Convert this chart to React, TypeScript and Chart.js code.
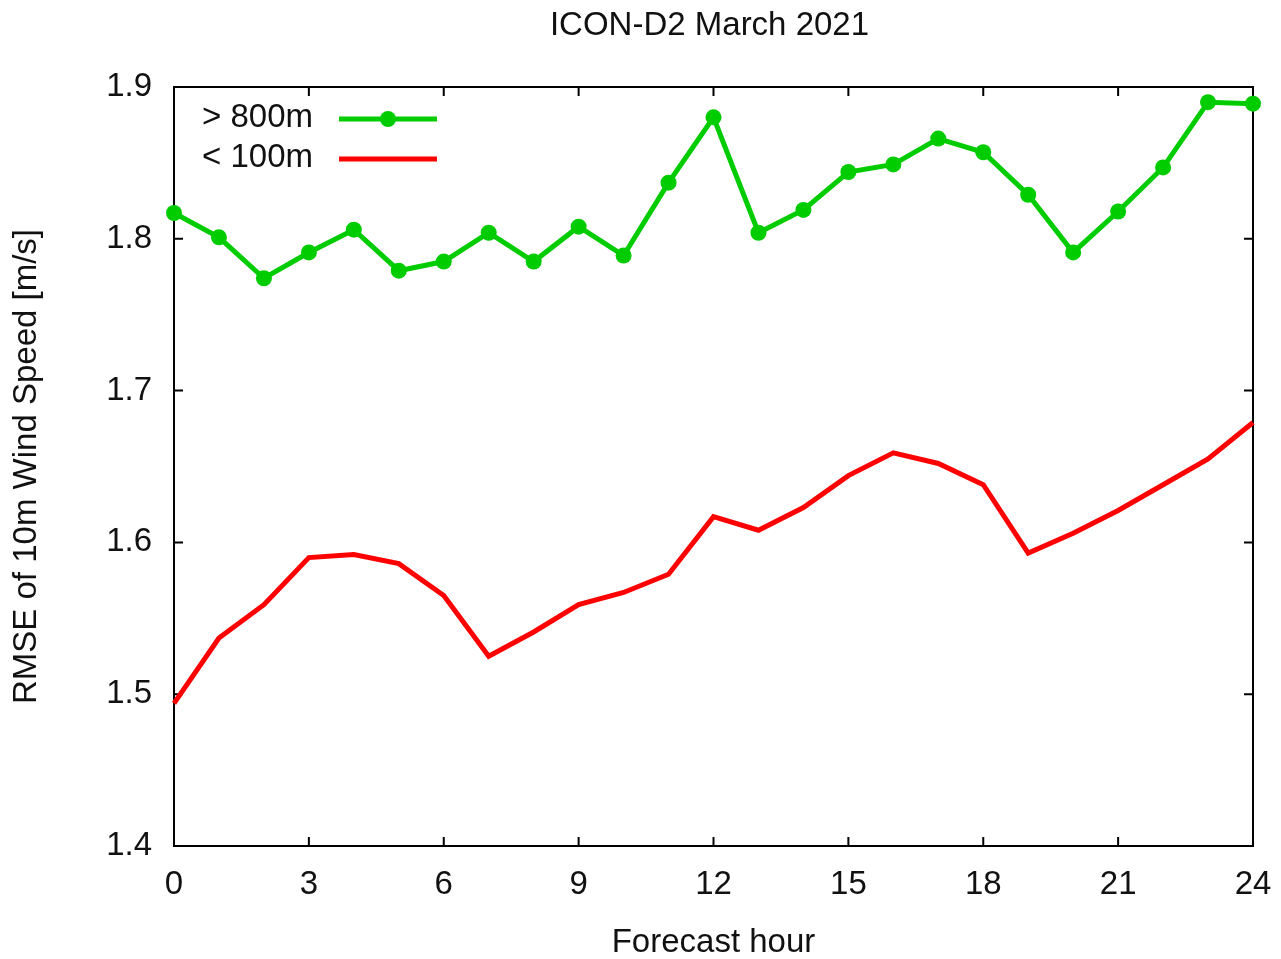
import React, { useEffect, useRef } from "react";
import { Chart, registerables } from "chart.js";

Chart.register(...registerables);

const titleText = "ICON-D2 March 2021";
const xTitle = "Forecast hour";
const yTitle = "RMSE of 10m Wind Speed [m/s]";

const hours = [0, 1, 2, 3, 4, 5, 6, 7, 8, 9, 10, 11, 12, 13, 14, 15, 16, 17, 18, 19, 20, 21, 22, 23, 24];
const above800 = [1.817, 1.801, 1.774, 1.791, 1.806, 1.779, 1.785, 1.804, 1.785, 1.808, 1.789, 1.837, 1.88, 1.804, 1.819, 1.844, 1.849, 1.866, 1.857, 1.829, 1.791, 1.818, 1.847, 1.89, 1.889];
const below100 = [1.494, 1.537, 1.559, 1.59, 1.592, 1.586, 1.565, 1.525, 1.541, 1.559, 1.567, 1.579, 1.617, 1.608, 1.623, 1.644, 1.659, 1.652, 1.638, 1.593, 1.606, 1.621, 1.638, 1.655, 1.679];
const seriesLabels = ["> 800m", "< 100m"];
const seriesColors = ["#00cc00", "#ff0000"];

const xTicks = [0, 3, 6, 9, 12, 15, 18, 21, 24];
const yTicks = [1.4, 1.5, 1.6, 1.7, 1.8, 1.9];

const FONT = "Liberation Sans, Arial, Helvetica, sans-serif";
const TEXT = "#111";
const FS = 33;

const framePlugin = {
  id: "gnuframe",
  beforeDatasetsDraw(chart: any) {
    const { ctx, chartArea, scales } = chart;
    const { left, right, top, bottom } = chartArea;
    const x = scales.x;
    const y = scales.y;
    const tl = 9;
    ctx.save();
    ctx.strokeStyle = "#000";
    ctx.lineWidth = 2;
    ctx.beginPath();
    for (const v of xTicks) {
      const px = x.getPixelForValue(v);
      ctx.moveTo(px, bottom);
      ctx.lineTo(px, bottom - tl);
      ctx.moveTo(px, top);
      ctx.lineTo(px, top + tl);
    }
    for (const v of yTicks) {
      const py = y.getPixelForValue(v);
      ctx.moveTo(left, py);
      ctx.lineTo(left + tl, py);
      ctx.moveTo(right, py);
      ctx.lineTo(right - tl, py);
    }
    ctx.stroke();
    ctx.strokeRect(left, top, right - left, bottom - top);
    ctx.restore();
  },
  afterDraw(chart: any) {
    const { ctx, chartArea } = chart;
    const { left, right } = chartArea;
    ctx.save();
    ctx.fillStyle = TEXT;
    ctx.font = `${FS}px ${FONT}`;
    ctx.textAlign = "center";
    ctx.textBaseline = "middle";
    ctx.fillText(titleText, (left + right) / 2 - 4, 26);

    // legend
    const ds = chart.data.datasets;
    ds.forEach((d: any, i: number) => {
      const ty = 118 + i * 40;
      ctx.textAlign = "right";
      ctx.fillStyle = TEXT;
      ctx.fillText(d.label, left + 139, ty);
      ctx.strokeStyle = d.borderColor;
      ctx.lineWidth = d.borderWidth;
      ctx.beginPath();
      ctx.moveTo(left + 165, ty + 1);
      ctx.lineTo(left + 263, ty + 1);
      ctx.stroke();
      if (d.pointRadius > 0) {
        ctx.fillStyle = d.backgroundColor;
        ctx.beginPath();
        ctx.arc(left + 214, ty + 1, d.pointRadius, 0, Math.PI * 2);
        ctx.fill();
      }
    });
    ctx.restore();
  },
};

export default function App() {
  const ref = useRef<HTMLCanvasElement>(null);
  useEffect(() => {
    document.body.style.margin = "0";
    document.body.style.overflow = "hidden";
    if (!ref.current) return;
    const chart = new Chart(ref.current, {
      type: "line",
      data: {
        datasets: [
          {
            label: seriesLabels[0],
            data: hours.map((h, i) => ({ x: h, y: above800[i] })),
            borderColor: seriesColors[0],
            backgroundColor: seriesColors[0],
            borderWidth: 5,
            pointRadius: 8,
            pointHoverRadius: 8,
            pointBorderWidth: 0,
            pointStyle: "circle",
            tension: 0,
            clip: false as any,
          },
          {
            label: seriesLabels[1],
            data: hours.map((h, i) => ({ x: h, y: below100[i] })),
            borderColor: seriesColors[1],
            backgroundColor: seriesColors[1],
            borderWidth: 5,
            pointRadius: 0,
            pointHoverRadius: 0,
            tension: 0,
            clip: false as any,
          },
        ],
      },
      options: {
        animation: false,
        responsive: true,
        maintainAspectRatio: false,
        events: [],
        layout: { padding: { top: 87, right: 28, bottom: 0, left: 0 } },
        plugins: {
          legend: { display: false },
          title: { display: false },
          tooltip: { enabled: false },
        },
        scales: {
          x: {
            type: "linear",
            min: 0,
            max: 24,
            afterBuildTicks: (s: any) => {
              s.ticks = xTicks.map((v) => ({ value: v }));
            },
            afterFit: (s: any) => {
              s.height = 113;
              s.paddingLeft = 0;
              s.paddingRight = 0;
            },
            grid: { display: false, drawTicks: false },
            border: { display: false },
            ticks: {
              padding: 19,
              maxRotation: 0,
              autoSkip: false,
              color: TEXT,
              font: { family: FONT, size: FS },
              callback: (v: any) => String(v),
            },
            title: {
              display: true,
              text: xTitle,
              color: TEXT,
              font: { family: FONT, size: FS },
              padding: { top: 0, bottom: -4 },
            },
          },
          y: {
            type: "linear",
            min: 1.4,
            max: 1.9,
            afterBuildTicks: (s: any) => {
              s.ticks = yTicks.map((v) => ({ value: v }));
            },
            afterFit: (s: any) => {
              s.width = 174;
              s.paddingTop = 0;
              s.paddingBottom = 0;
            },
            grid: { display: false, drawTicks: false },
            border: { display: false },
            ticks: {
              padding: 22,
              autoSkip: false,
              color: TEXT,
              font: { family: FONT, size: FS },
              callback: (v: any) => Number(v).toFixed(1),
            },
            title: {
              display: true,
              text: yTitle,
              color: TEXT,
              font: { family: FONT, size: FS },
              padding: { top: 7, bottom: 0 },
            },
          },
        },
      },
      plugins: [framePlugin],
    });
    return () => chart.destroy();
  }, []);
  return (
    <div style={{ position: "relative", width: 1281, height: 959 }}>
      <canvas ref={ref} />
    </div>
  );
}
